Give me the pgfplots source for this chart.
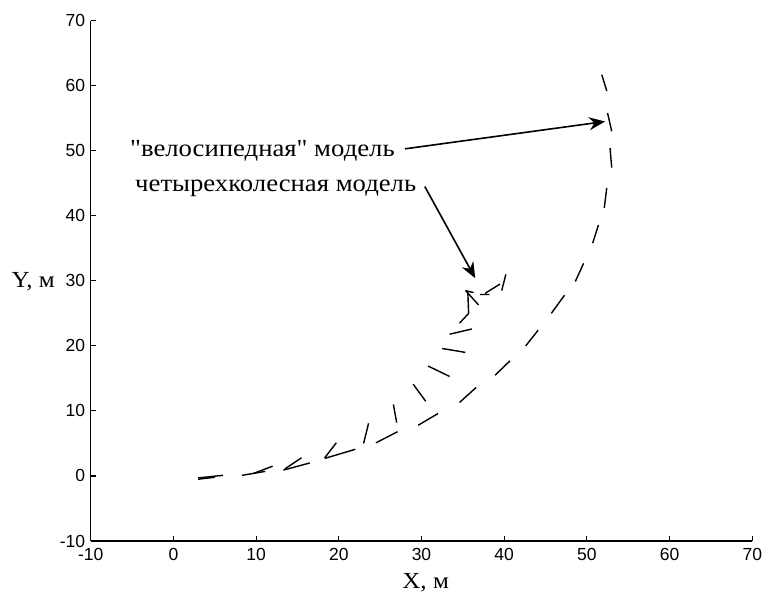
\documentclass[border=0pt]{standalone}
\usepackage{fontspec}
\setmainfont{Liberation Serif}
\newfontfamily\labelfont[FakeStretch=1.09]{Liberation Serif}
\newfontfamily\ticksfont{Liberation Sans}
\usepackage{pgfplots}
\pgfplotsset{compat=1.18}
\usetikzlibrary{arrows.meta}

\begin{document}
\begin{tikzpicture}
\path[use as bounding box] (-90.7pt,-53pt) rectangle (674.3pt,541pt);
\begin{axis}[
  at={(0pt,0pt)}, anchor=south west,
  scale only axis, width=661.6pt, height=520.3pt,
  xmin=-10, xmax=70, ymin=-10, ymax=70,
  axis lines=left, axis line style={-, line width=1.2pt},
  tick align=inside, major tick length=5pt,
  tick style={line width=1.1pt, black},
  xtick={-10,0,10,20,30,40,50,60,70},
  ytick={-10,0,10,20,30,40,50,60,70},
  xticklabels={-10,0,10,20,30,40,50,60,70},
  yticklabels={-10,0,10,20,30,40,50,60,70},
  ticklabel style={font=\ticksfont\fontsize{17.5}{19}\selectfont},
  xticklabel style={yshift=-4pt},
  yticklabel style={xshift=-2pt},
  clip=false,
  unbounded coords=jump,
]
% "bicycle" model
\addplot[black, line width=1.4pt] coordinates {
(3.0,-0.3) (6.0,0.1) (nan,nan)
(8.3,0.1) (11.1,0.7) (nan,nan)
(13.3,0.9) (16.5,2.0) (nan,nan)
(18.3,2.7) (22.0,4.1) (nan,nan)
(24.5,5.1) (27.1,6.8) (nan,nan)
(29.6,7.8) (32.0,9.6) (nan,nan)
(34.6,11.3) (36.6,13.6) (nan,nan)
(38.9,15.5) (40.7,17.7) (nan,nan)
(42.6,20.0) (44.1,22.4) (nan,nan)
(45.7,25.0) (47.3,27.8) (nan,nan)
(48.6,29.9) (49.6,32.7) (nan,nan)
(50.7,35.8) (51.4,38.6) (nan,nan)
(52.1,41.2) (52.4,44.3) (nan,nan)
(53.0,47.4) (52.8,50.4) (nan,nan)
(53.0,53.0) (52.5,55.8) (nan,nan)
(52.4,59.2) (51.8,61.7)
};
% four-wheel model
\addplot[black, line width=1.4pt] coordinates {
(3.0,-0.5) (5.0,-0.2) (nan,nan)
(9.7,0.4) (12.0,1.5) (nan,nan)
(13.5,1.1) (15.5,2.8) (nan,nan)
(18.3,2.8) (19.7,5.1) (nan,nan)
(23.0,5.0) (23.6,8.1) (nan,nan)
(27.0,8.2) (26.6,11.0) (nan,nan)
(30.5,11.5) (29.0,14.1) (nan,nan)
(33.4,15.3) (30.8,16.9) (nan,nan)
(35.3,19.0) (32.5,19.6) (nan,nan)
(33.4,21.8) (36.1,22.6) (nan,nan)
(34.6,23.5) (35.7,25.0) (35.6,28.3) (nan,nan)
(35.4,28.4) (36.9,26.3) (nan,nan)
(35.3,28.5) (36.3,28.2) (nan,nan)
(37.1,27.9) (38.2,27.9) (nan,nan)
(37.7,28.1) (39.5,29.5) (nan,nan)
(39.7,28.5) (40.2,31.0)
};
\node[anchor=base west, inner sep=0pt, font=\labelfont\fontsize{24.5}{27}\selectfont]
  at (axis cs:-5.25,49.15) {"велосипедная" модель};
\node[anchor=base west, inner sep=0pt, font=\labelfont\fontsize{24.5}{27}\selectfont]
  at (axis cs:-4.64,43.76) {четырехколесная модель};
\draw[line width=1.6pt, -{Stealth[length=16pt,width=13pt]}]
  (axis cs:28.0,50.3) -- (axis cs:52.2,54.5);
\draw[line width=1.6pt, -{Stealth[length=16pt,width=13pt]}]
  (axis cs:30.4,44.5) -- (axis cs:36.5,30.4);
\node[anchor=base east, inner sep=0pt, font=\labelfont\fontsize{23}{25}\selectfont]
  at (axis cs:-10,30) [xshift=-35.7pt, yshift=-6.5pt] {Y, м};
\node[anchor=base, inner sep=0pt, font=\labelfont\fontsize{23}{25}\selectfont]
  at (axis cs:30.5,-10) [yshift=-47pt] {X, м};
\end{axis}
\end{tikzpicture}
\end{document}
